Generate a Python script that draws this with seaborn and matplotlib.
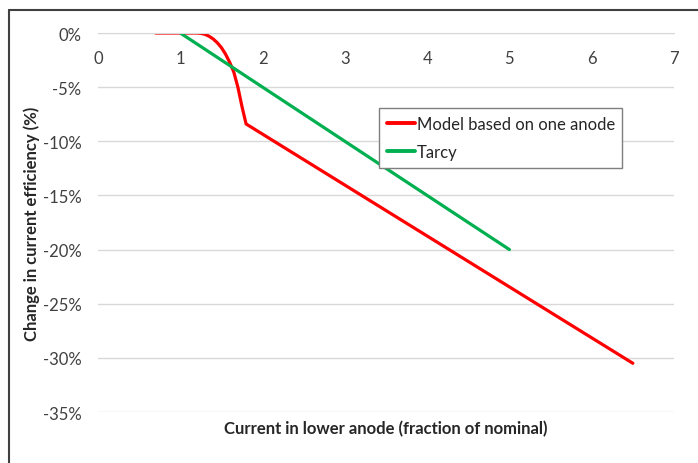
import pandas as pd
import seaborn as sb
import matplotlib.pyplot as plt
from matplotlib.ticker import FuncFormatter
from matplotlib.lines import Line2D

# values (y in percent)
model_x = [0.7, 1.0, 1.2, 1.25, 1.3, 1.35, 1.4, 1.45, 1.5, 1.55, 1.6, 1.65, 1.7, 1.75, 1.8, 6.5]
model_y = [0.0, 0.0, 0.0, -0.03, -0.12, -0.3, -0.55, -0.9, -1.35, -1.95, -2.7, -3.6, -5.0, -6.8, -8.4, -30.5]
tarcy_x = [1.0, 5.0]
tarcy_y = [0.0, -20.0]
series_names = ['Model based on one anode', 'Tarcy']
series_colors = ['#FF0000', '#00B050']

df = pd.concat([
    pd.DataFrame({'x': model_x, 'y': model_y, 'series': series_names[0]}),
    pd.DataFrame({'x': tarcy_x, 'y': tarcy_y, 'series': series_names[1]}),
])

sb.set_style('white')
plt.rcParams['font.family'] = ['Lato', 'DejaVu Sans']

fig = plt.figure(figsize=(6.98, 4.64), dpi=100)
ax = fig.add_axes([0.1404, 0.1099, 0.8252, 0.8168])

sb.lineplot(data=df, x='x', y='y', hue='series', palette=series_colors,
            linewidth=2.3, sort=False, ax=ax, legend=False,
            solid_joinstyle='round', solid_capstyle='round')

ax.set_xlim(0, 7)
ax.set_ylim(-35, 0)
ax.set_xticks(range(0, 8))
ax.set_yticks(range(-35, 1, 5))
ax.yaxis.set_major_formatter(FuncFormatter(lambda v, p: '%d%%' % round(v)))
ax.grid(axis='y', color='#D9D9D9', linewidth=1)
ax.set_axisbelow(True)

# x axis crosses at 0%, which is the top of the plot
for s in ['top', 'right', 'left']:
    ax.spines[s].set_visible(False)
ax.spines['bottom'].set_position(('data', 0))
ax.spines['bottom'].set_color('#D9D9D9')
ax.tick_params(axis='x', direction='out', length=4, color='#BFBFBF',
               pad=8, labelsize=12, labelcolor='#404040')
ax.tick_params(axis='y', length=0, pad=12, labelsize=12, labelcolor='#404040')

ax.set_xlabel('Current in lower anode (fraction of nominal)', fontsize=12, fontweight='bold')
ax.set_ylabel('Change in current efficiency (%)', fontsize=12, fontweight='bold')
ax.xaxis.set_label_coords(0.5, -0.022)
ax.yaxis.set_label_coords(-0.1, 0.5)

handles = [Line2D([], [], color=c, linewidth=2.8) for c in series_colors]
leg = ax.legend(handles, series_names, loc='upper left', bbox_to_anchor=(0.488, 0.802),
                borderaxespad=0, fontsize=12, handlelength=1.7, handletextpad=0.1,
                fancybox=False, framealpha=1, edgecolor='#7F7F7F', borderpad=0.45,
                labelspacing=0.75)
leg.get_frame().set_linewidth(1)

# chart border (left and top edges visible)
fig.add_artist(Line2D([0.0129, 0.0129], [0, 0.976], color='#404040', linewidth=1.5,
                      transform=fig.transFigure))
fig.add_artist(Line2D([0.0129, 1], [0.976, 0.976], color='#404040', linewidth=1.5,
                      transform=fig.transFigure))

plt.savefig('out.png', dpi=100)
